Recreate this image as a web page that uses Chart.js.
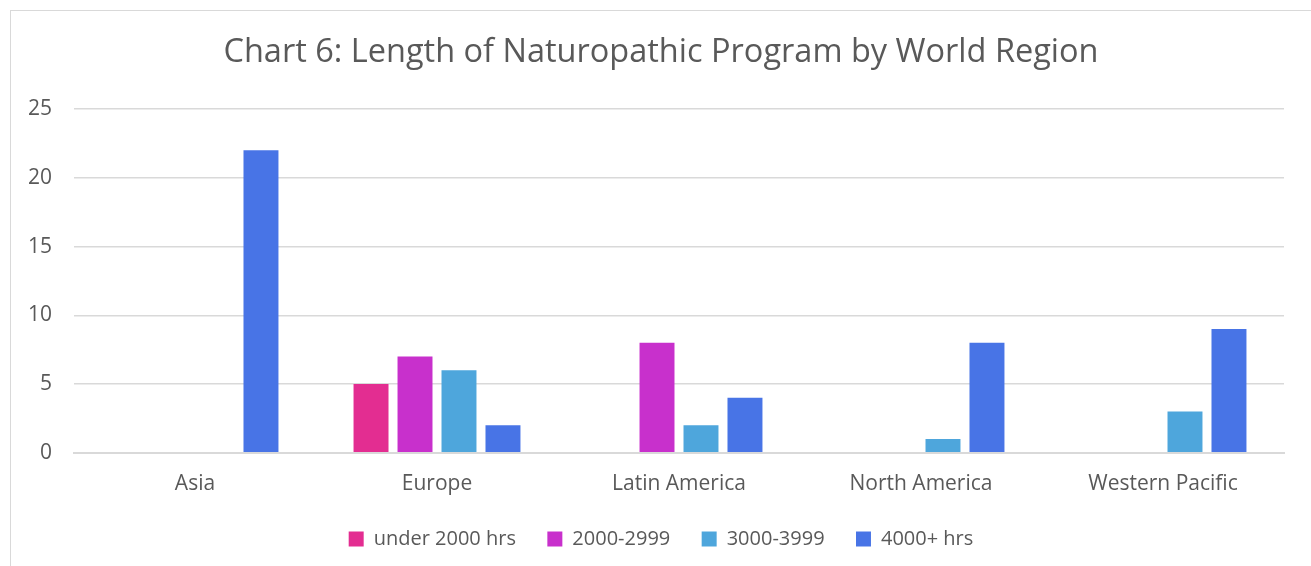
<!DOCTYPE html>
<html>
<head>
<meta charset="utf-8">
<script src="https://cdn.jsdelivr.net/npm/chart.js@4/dist/chart.umd.min.js"></script>
<style>
  html, body { margin: 0; padding: 0; background: #fff; overflow: hidden; }
  #wrap {
    position: absolute; left: 10px; top: 10px;
    width: 1310px; height: 580px;
    border: 1px solid #d9d9d9; background: #fff;
  }
</style>
</head>
<body>
<div id="wrap"><canvas id="chart" width="1300" height="548"></canvas></div>
<script>
  const regions = ['Asia', 'Europe', 'Latin America', 'North America', 'Western Pacific'];
  const seriesNames = ['under 2000 hrs', '2000-2999', '3000-3999', '4000+ hrs'];
  const under2000 = [0, 5, 0, 0, 0];
  const from2000 = [0, 7, 8, 0, 0];
  const from3000 = [0, 6, 2, 1, 3];
  const over4000 = [22, 2, 4, 8, 9];

  const fontFam = "'Open Sans', 'Noto Sans', sans-serif";
  const textCol = '#595959';

  // trailing spaces widen the gap between legend items, last one left alone
  const legendText = (i) => i < seriesNames.length - 1 ? seriesNames[i] + '  ' : seriesNames[i];

  const ctx = document.getElementById('chart').getContext('2d');
  new Chart(ctx, {
    type: 'bar',
    data: {
      labels: regions,
      datasets: [
        { label: seriesNames[0], data: under2000, backgroundColor: '#E32D91' },
        { label: seriesNames[1], data: from2000, backgroundColor: '#C830CC' },
        { label: seriesNames[2], data: from3000, backgroundColor: '#4EA6DC' },
        { label: seriesNames[3], data: over4000, backgroundColor: '#4874E6' }
      ]
    },
    options: {
      responsive: false,
      animation: false,
      categoryPercentage: 0.727,
      barPercentage: 0.795,
      plugins: {
        title: {
          display: true,
          text: 'Chart 6: Length of Naturopathic Program by World Region',
          color: textCol,
          font: { family: fontFam, size: 32.5, weight: 'normal' },
          padding: { top: 22, bottom: 37 }
        },
        legend: {
          position: 'bottom',
          labels: {
            color: textCol,
            font: { family: fontFam, size: 20 },
            boxWidth: 15, boxHeight: 15,
            padding: 21,
            generateLabels: (chart) => {
              const items = Chart.defaults.plugins.legend.labels.generateLabels(chart);
              items.forEach((it, i) => { it.text = legendText(i); it.lineWidth = 0; });
              return items;
            }
          }
        },
        tooltip: { enabled: false }
      },
      scales: {
        x: {
          grid: { display: false },
          border: { color: '#d9d9d9', width: 2 },
          ticks: { color: textCol, font: { family: fontFam, size: 21 }, padding: 11 }
        },
        y: {
          min: 0, max: 25,
          ticks: { stepSize: 5, color: textCol, font: { family: fontFam, size: 21 }, padding: 22 },
          grid: { color: '#d9d9d9', lineWidth: 1.5, drawTicks: false },
          border: { display: false },
          afterFit: (s) => { s.width = 63; }
        },
        spacer: {
          position: 'right',
          min: 0, max: 25,
          ticks: { display: false },
          grid: { display: false },
          border: { display: false },
          afterFit: (s) => { s.width = 27; }
        }
      }
    }
  });
</script>
</body>
</html>
